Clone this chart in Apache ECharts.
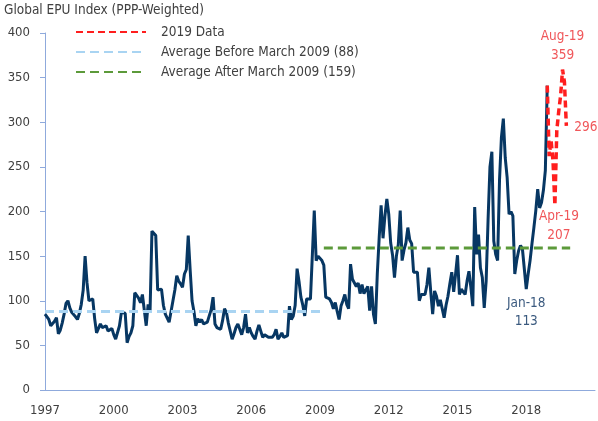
<!DOCTYPE html>
<html>
<head>
<meta charset="utf-8">
<script src="https://cdn.jsdelivr.net/npm/echarts@6/dist/echarts.min.js"></script>
<style>
  html, body { margin: 0; padding: 0; background: #fff; }
  #chart { width: 598px; height: 421px; }
</style>
</head>
<body>
<div id="chart"></div>
<script>
  // monthly Global EPU (PPP) Jan 1997 .. Dec 2018
  const epu1997 = [85, 85, 79, 72, 74, 77, 81, 63, 67, 75, 85, 97];
  const epu1998 = [100, 92, 87, 87, 82, 79, 86, 96, 112, 150, 120, 100];
  const epu1999 = [98, 102, 80, 64, 64, 74, 70, 70, 72, 66, 68, 69];
  const epu2000 = [62, 57, 57, 72, 87, 87, 86, 53, 60, 64, 72, 109];
  const epu2001 = [107, 103, 98, 107, 105, 72, 96, 87, 178, 176, 173, 112];
  const epu2002 = [113, 113, 95, 85, 87, 76, 88, 100, 112, 128, 122, 119];
  const epu2003 = [115, 130, 135, 173, 135, 100, 88, 72, 80, 76, 79, 74];
  const epu2004 = [74, 76, 77, 90, 104, 74, 70, 69, 68, 78, 91, 87];
  const epu2005 = [75, 66, 57, 63, 70, 74, 68, 62, 70, 85, 64, 70];
  const epu2006 = [64, 60, 57, 66, 73, 71, 59, 62, 64, 59, 59, 59];
  const epu2007 = [62, 68, 57, 60, 64, 59, 60, 61, 94, 79, 83, 95];
  const epu2008 = [136, 122, 104, 95, 83, 102, 102, 102, 103, 201, 145, 150];
  const epu2009 = [150, 145, 140, 104, 103, 102, 98, 91, 98, 88, 79, 94];
  const epu2010 = [100, 107, 96, 91, 141, 124, 122, 116, 120, 108, 118, 108];
  const epu2011 = [108, 116, 89, 116, 85, 74, 130, 171, 207, 170, 195, 214];
  const epu2012 = [197, 165, 151, 126, 150, 163, 201, 145, 157, 165, 182, 168];
  const epu2013 = [164, 132, 132, 132, 100, 107, 105, 107, 118, 137, 110, 85];
  const epu2014 = [111, 105, 94, 101, 91, 81, 95, 105, 119, 132, 110, 130];
  const epu2015 = [151, 107, 113, 110, 107, 122, 133, 115, 94, 205, 152, 174];
  const epu2016 = [137, 126, 92, 122, 190, 250, 267, 167, 152, 145, 235, 283];
  const epu2017 = [304, 260, 238, 197, 200, 195, 130, 145, 156, 162, 158, 156];
  const epu2018 = [113, 130, 145, 164, 182, 201, 225, 204, 210, 224, 246, 341];

  // 2019 data, starting at Dec 2018 so it joins the main line
  const epu2019Start = '2018-12';
  const epu2019 = [341, 262, 280, 257, 207, 291, 312, 330, 359, 345, 296];

  const avgNames = ['Average Before March 2009 (88)', 'Average After March 2009 (159)'];
  const avgValues = [88, 159];
  const avgSpans = [['1997-01', '2009-03'], ['2009-03', '2019-12']];

  const yearLabels = ['1997', '2000', '2003', '2006', '2009', '2012', '2015', '2018'];

  // callouts: [month, text]
  const redCallouts = [['2019-08', 'Aug-19'], ['2019-10', ''], ['2019-04', 'Apr-19']];
  const blueCallouts = [['2018-01', 'Jan-18']];

  const FONT = "'Liberation Sans Narrow', 'DejaVu Sans Condensed', sans-serif";

  const monthIndex = (s) => {
    const [y, m] = s.split('-').map(Number);
    return (y - 1997) * 12 + (m - 1);
  };

  const epuMonthly = [].concat(epu1997, epu1998, epu1999, epu2000, epu2001, epu2002,
    epu2003, epu2004, epu2005, epu2006, epu2007, epu2008, epu2009, epu2010, epu2011,
    epu2012, epu2013, epu2014, epu2015, epu2016, epu2017, epu2018);
  const epuData = epuMonthly.map((v, i) => [i, v]);
  const start19 = monthIndex(epu2019Start);
  const epu2019Data = epu2019.map((v, i) => [start19 + i, v]);

  const valueAt = (m) => {
    const i = monthIndex(m);
    return i >= start19 ? epu2019[i - start19] : epuMonthly[i];
  };

  const redPos = [
    { position: 'top', distance: 5 },
    { position: 'right', distance: 8, offset: [0, 2] },
    { position: 'bottom', distance: 2, offset: [4, 0] }
  ];

  var myChart = echarts.init(document.getElementById('chart'));
  var option = {
    animation: false,
    title: {
      text: 'Global EPU Index (PPP-Weighted)',
      left: 4, top: 3, padding: 0,
      textStyle: { fontSize: 13.5, fontWeight: 'normal', color: '#404040', fontFamily: FONT }
    },
    legend: {
      orient: 'vertical',
      left: 75, top: 25, padding: 0,
      itemWidth: 70, itemHeight: 14, itemGap: 6,
      selectedMode: false,
      itemStyle: { opacity: 0 },
      data: ['2019 Data'].concat(avgNames),
      textStyle: { color: '#404040', fontSize: 13.5, fontFamily: FONT, padding: [0, 0, 0, 10] }
    },
    grid: { left: 45, right: 3, top: 33, bottom: 31 },
    xAxis: {
      type: 'value',
      min: 0, max: 288, interval: 36,
      axisLine: { onZero: false, lineStyle: { color: '#8FAADC' } },
      axisTick: { show: false },
      splitLine: { show: false },
      axisLabel: {
        color: '#404040', fontSize: 13, fontFamily: FONT, margin: 14,
        showMaxLabel: false,
        formatter: (v) => yearLabels[v / 36] || ''
      }
    },
    yAxis: {
      type: 'value',
      min: 0, max: 400, interval: 50,
      axisLine: { show: true, lineStyle: { color: '#8FAADC' } },
      axisTick: { show: true, length: 5, lineStyle: { color: '#8FAADC' } },
      splitLine: { show: false },
      axisLabel: { color: '#404040', fontSize: 13, fontFamily: FONT, margin: 15 }
    },
    series: [
      {
        name: 'Global EPU',
        type: 'line',
        data: epuData,
        symbol: 'none',
        lineStyle: { color: '#073763', width: 3 },
        markPoint: {
          symbol: 'circle', symbolSize: 0, silent: true,
          label: { show: true, color: '#3B5A7F', fontSize: 13.5, fontFamily: FONT, lineHeight: 18 },
          data: blueCallouts.map(([m, t]) => ({
            coord: [monthIndex(m), valueAt(m)],
            label: { position: 'bottom', distance: 5, formatter: t + '\n' + valueAt(m) }
          }))
        }
      },
      {
        name: '2019 Data',
        type: 'line',
        data: epu2019Data,
        symbol: 'none',
        lineStyle: { color: '#FF1E1E', width: 3.5, type: [7, 4] },
        itemStyle: { color: '#FF1E1E' },
        markPoint: {
          symbol: 'circle', symbolSize: 0, silent: true,
          label: { show: true, color: '#F0575A', fontSize: 13.5, fontFamily: FONT, lineHeight: 19 },
          data: redCallouts.map(([m, t], i) => ({
            coord: [monthIndex(m), valueAt(m)],
            label: Object.assign({ formatter: (t ? t + '\n' : '') + valueAt(m) }, redPos[i])
          }))
        }
      },
      {
        name: avgNames[0],
        type: 'line',
        data: avgSpans[0].map((m) => [monthIndex(m), avgValues[0]]),
        symbol: 'none',
        lineStyle: { color: '#A9D4F2', width: 3, type: [9, 5] },
        itemStyle: { color: '#A9D4F2' }
      },
      {
        name: avgNames[1],
        type: 'line',
        data: avgSpans[1].map((m) => [monthIndex(m), avgValues[1]]),
        symbol: 'none',
        lineStyle: { color: '#5C9A3A', width: 3, type: [9, 5] },
        itemStyle: { color: '#5C9A3A' }
      }
    ]
  };
  option && myChart.setOption(option);
</script>
</body>
</html>
